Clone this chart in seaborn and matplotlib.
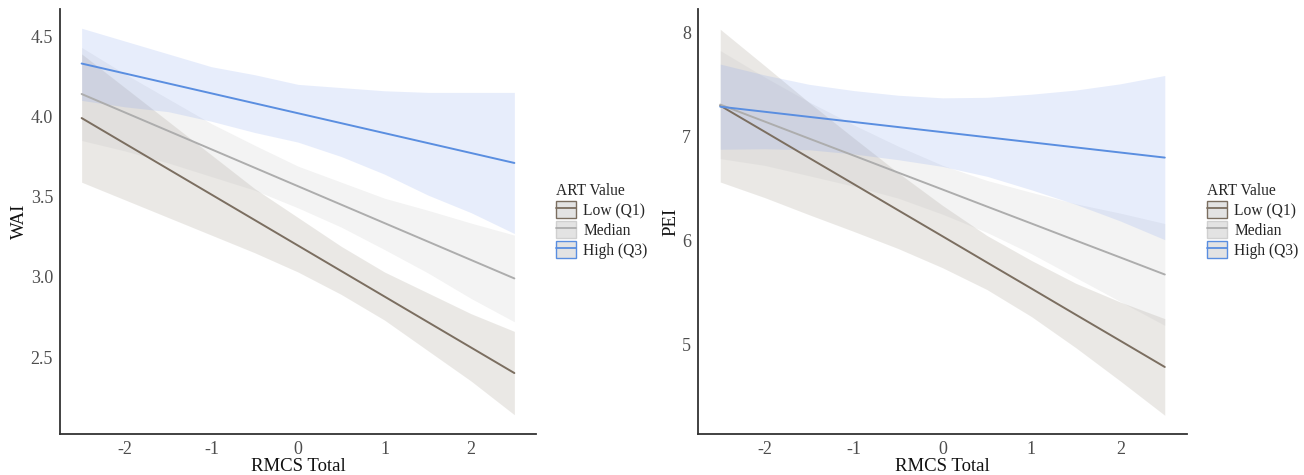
import numpy as np
import pandas as pd
import matplotlib
matplotlib.use("Agg")
import matplotlib.pyplot as plt
from matplotlib.patches import Patch
from matplotlib.lines import Line2D
import seaborn as sns

# ---------------- data ----------------
rmcs = [-2.5, -2.0, -1.5, -1.0, -0.5, 0.0, 0.5, 1.0, 1.5, 2.0, 2.5]
groups = ["Low (Q1)", "Median", "High (Q3)"]

wai_low_fit = [3.990, 3.831, 3.672, 3.513, 3.354, 3.195, 3.036, 2.877, 2.718, 2.559, 2.400]
wai_low_lo = [3.59, 3.48, 3.37, 3.26, 3.15, 3.03, 2.89, 2.73, 2.54, 2.35, 2.14]
wai_low_hi = [4.39, 4.18, 3.97, 3.76, 3.55, 3.37, 3.19, 3.03, 2.90, 2.77, 2.66]
wai_med_fit = [4.140, 4.025, 3.910, 3.795, 3.680, 3.565, 3.450, 3.335, 3.220, 3.105, 2.990]
wai_med_lo = [3.85, 3.785, 3.71, 3.625, 3.54, 3.43, 3.31, 3.17, 3.025, 2.865, 2.72]
wai_med_hi = [4.43, 4.265, 4.11, 3.955, 3.82, 3.69, 3.59, 3.49, 3.415, 3.335, 3.26]
wai_high_fit = [4.330, 4.268, 4.206, 4.144, 4.082, 4.020, 3.958, 3.896, 3.834, 3.772, 3.710]
wai_high_lo = [4.10, 4.06, 4.03, 3.97, 3.90, 3.84, 3.75, 3.64, 3.51, 3.40, 3.27]
wai_high_hi = [4.55, 4.47, 4.39, 4.31, 4.26, 4.20, 4.18, 4.16, 4.15, 4.15, 4.15]

pei_low_fit = [7.300, 7.049, 6.797, 6.546, 6.294, 6.043, 5.791, 5.540, 5.288, 5.037, 4.785]
pei_low_lo = [6.565, 6.415, 6.25, 6.09, 5.925, 5.74, 5.53, 5.27, 4.97, 4.65, 4.32]
pei_low_hi = [8.035, 7.685, 7.33, 6.99, 6.655, 6.34, 6.05, 5.81, 5.59, 5.41, 5.25]
pei_med_fit = [7.310, 7.147, 6.983, 6.820, 6.656, 6.493, 6.329, 6.166, 6.002, 5.839, 5.675]
pei_med_lo = [6.79, 6.725, 6.625, 6.525, 6.41, 6.255, 6.08, 5.875, 5.645, 5.415, 5.185]
pei_med_hi = [7.83, 7.575, 7.335, 7.115, 6.91, 6.725, 6.58, 6.465, 6.355, 6.265, 6.165]
pei_high_fit = [7.290, 7.241, 7.192, 7.143, 7.094, 7.045, 6.996, 6.947, 6.898, 6.849, 6.800]
pei_high_lo = [6.88, 6.885, 6.875, 6.835, 6.78, 6.715, 6.62, 6.49, 6.35, 6.19, 6.01]
pei_high_hi = [7.70, 7.595, 7.505, 7.445, 7.40, 7.375, 7.38, 7.41, 7.45, 7.51, 7.59]

wai_yticks = [2.5, 3.0, 3.5, 4.0, 4.5]
pei_yticks = [5, 6, 7, 8]
x_ticks = [-2, -1, 0, 1, 2]


def make_df(fits, los, his):
    rows = []
    for g, f, lo, hi in zip(groups, fits, los, his):
        for xv, fv, lv, hv in zip(rmcs, f, lo, hi):
            rows.append({"RMCS Total": xv, "fit": fv, "lo": lv, "hi": hv, "ART Value": g})
    return pd.DataFrame(rows)


wai_df = make_df([wai_low_fit, wai_med_fit, wai_high_fit],
                 [wai_low_lo, wai_med_lo, wai_high_lo],
                 [wai_low_hi, wai_med_hi, wai_high_hi])
pei_df = make_df([pei_low_fit, pei_med_fit, pei_high_fit],
                 [pei_low_lo, pei_med_lo, pei_high_lo],
                 [pei_low_hi, pei_med_hi, pei_high_hi])

# ---------------- style ----------------
sns.set_theme(style="white")
plt.rcParams["font.family"] = ["Liberation Serif", "DejaVu Serif"]

line_colors = {"Low (Q1)": "#7b6e60", "Median": "#adadad", "High (Q3)": "#5a8ee0"}
fill_colors = {"Low (Q1)": "#a39a8c", "Median": "#b8b8b8", "High (Q3)": "#7a9cee"}
band_alphas = {"Low (Q1)": 0.22, "Median": 0.17, "High (Q3)": 0.18}

fig = plt.figure(figsize=(13.04, 4.75), dpi=100)
W, H = 1304, 475
ax1 = fig.add_axes([60 / W, 1 - 434 / H, 476 / W, 425 / H])
ax2 = fig.add_axes([698 / W, 1 - 434 / H, 489 / W, 425 / H])


def draw(ax, df, ylabel, ylim, yticks, yfmt):
    for g in groups:
        sub = df[df["ART Value"] == g]
        ax.fill_between(sub["RMCS Total"], sub["lo"], sub["hi"],
                        color=fill_colors[g], alpha=band_alphas[g], linewidth=0, zorder=1)
    sns.lineplot(data=df, x="RMCS Total", y="fit", hue="ART Value",
                 palette=line_colors, hue_order=groups, ax=ax,
                 linewidth=1.4, legend=False, zorder=3)
    ax.set_xlim(-2.75, 2.75)
    ax.set_ylim(*ylim)
    ax.set_xticks(x_ticks)
    ax.set_xticklabels([str(v) for v in x_ticks])
    ax.set_yticks(yticks)
    ax.set_yticklabels([yfmt.format(v) for v in yticks])
    ax.tick_params(axis="both", length=0, pad=5, labelsize=13, labelcolor="#4d4d4d")
    ax.set_xlabel("RMCS Total", fontsize=13.5, color="#111111", labelpad=0)
    ax.set_ylabel(ylabel, fontsize=13.5, color="#111111", labelpad=2)
    for s in ["top", "right"]:
        ax.spines[s].set_visible(False)
    for s in ["left", "bottom"]:
        ax.spines[s].set_color("#333333")
        ax.spines[s].set_linewidth(1.3)
    ax.set_facecolor("white")


draw(ax1, wai_df, "WAI", (2.02, 4.67), wai_yticks, "{:.1f}")
draw(ax2, pei_df, "PEI", (4.14, 8.23), pei_yticks, "{:d}")


def legend_at(xpix):
    handles = []
    for g in groups:
        edge = line_colors[g] if g != "Median" else "#d0d0d0"
        p = Patch(facecolor="#e3e3e3", edgecolor=edge, linewidth=1.0)
        l = Line2D([], [], color=line_colors[g], linewidth=1.3)
        handles.append((p, l))
    leg = fig.legend(handles=handles, labels=groups, title="ART Value",
                     loc="center left", bbox_to_anchor=(xpix / W, 1 - 221 / H),
                     frameon=False, fontsize=11.2, title_fontsize=11.2,
                     handlelength=1.3, handleheight=1.3, handletextpad=0.45,
                     labelspacing=0.15, borderpad=0.2, borderaxespad=0)
    leg._legend_box.align = "left"
    return leg


legend_at(553)
legend_at(1204)

fig.savefig("out.png", dpi=100, facecolor="white")
